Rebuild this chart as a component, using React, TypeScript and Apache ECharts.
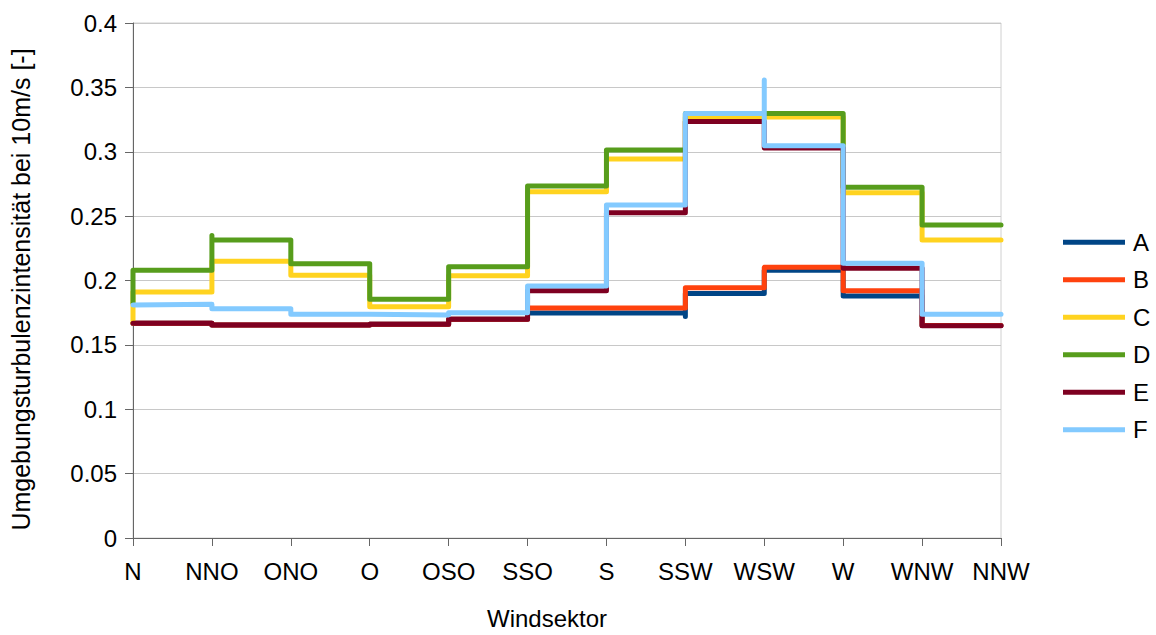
import React, { useEffect, useRef } from "react";
import * as echarts from "echarts";

const categories = ["N", "NNO", "ONO", "O", "OSO", "SSO", "S", "SSW", "WSW", "W", "WNW", "NNW"];
const seriesNames = ["A", "B", "C", "D", "E", "F"];
const colors = ["#004586", "#ff420e", "#ffd320", "#579d1c", "#7e0021", "#83caff"];

// value at index 0 is the starting value at N; value at index i holds for the sector step ending at category i
const valuesA = [0.1667, 0.1667, 0.1654, 0.1654, 0.166, 0.1699, 0.1748, 0.1748, 0.19, 0.208, 0.188, 0.165];
const valuesB = [0.1667, 0.1667, 0.1654, 0.1654, 0.166, 0.1699, 0.1786, 0.1786, 0.1944, 0.2102, 0.192, 0.165];
const valuesC = [0.167, 0.191, 0.215, 0.204, 0.1797, 0.2037, 0.269, 0.2944, 0.327, 0.327, 0.2682, 0.2315];
const valuesD = [0.1825, 0.208, 0.2315, 0.213, 0.1854, 0.2107, 0.2734, 0.3014, 0.3298, 0.3298, 0.2724, 0.2431];
const valuesE = [0.1667, 0.1667, 0.1654, 0.1654, 0.166, 0.1699, 0.192, 0.2527, 0.3234, 0.303, 0.2095, 0.1649];
const valuesF = [0.181, 0.1815, 0.178, 0.1737, 0.1732, 0.175, 0.1957, 0.2587, 0.3298, 0.3047, 0.2134, 0.1737];

// extra points drawn at a category between two steps
const extraA = [{ category: "SSW", value: 0.172 }];
const extraD = [{ category: "NNO", value: 0.235 }];
const extraF = [{ category: "WSW", value: 0.3557 }];

const yTicks = { min: 0, max: 0.4, interval: 0.05 };

const allValues = [valuesA, valuesB, valuesC, valuesD, valuesE, valuesF];
const allExtras = [extraA, [], [], extraD, [], extraF];

function buildData(values: number[], extras: { category: string; value: number }[]) {
  const out: [number, number][] = [];
  values.forEach((v, i) => {
    out.push([i, v]);
    extras
      .filter((e) => e.category === categories[i])
      .forEach((e) => out.push([i, e.value]));
  });
  return out;
}

const FONT = "'Liberation Sans', Arial, sans-serif";

export default function App() {
  const ref = useRef<HTMLDivElement>(null);
  useEffect(() => {
    if (!ref.current) return;
    const chart = echarts.init(ref.current, undefined, { renderer: "svg" });
    chart.setOption({
      animation: false,
      backgroundColor: "#ffffff",
      textStyle: { fontFamily: FONT },
      grid: { left: 133, right: 155, top: 23, bottom: 97, show: true, borderColor: "#d0d0d0", borderWidth: 1 },
      legend: {
        orient: "vertical",
        left: 1063,
        top: 230,
        padding: 0,
        itemWidth: 62,
        itemHeight: 5,
        itemGap: 13,
        icon: "rect",
        data: seriesNames,
        textStyle: { fontSize: 24, color: "#000", lineHeight: 24.5, fontFamily: FONT, padding: [0, 0, 0, 3] },
      },
      xAxis: {
        type: "category",
        data: categories,
        boundaryGap: false,
        axisLine: { lineStyle: { color: "#666", width: 1 } },
        axisTick: { show: true, length: 8, interval: 0, lineStyle: { color: "#666" } },
        axisLabel: { fontSize: 24, color: "#000", margin: 21, interval: 0, hideOverlap: false, fontFamily: FONT },
        splitLine: { show: false },
      },
      yAxis: {
        type: "value",
        min: yTicks.min,
        max: yTicks.max,
        interval: yTicks.interval,
        name: "Umgebungsturbulenzintensität bei 10m/s [-]",
        nameLocation: "middle",
        nameGap: 100,
        nameTextStyle: { fontSize: 25, color: "#000", fontFamily: FONT, padding: [0, 18, 0, 0] },
        axisLine: { show: true, lineStyle: { color: "#666", width: 1 } },
        axisTick: { show: true, length: 8, lineStyle: { color: "#666" } },
        axisLabel: { fontSize: 24, color: "#000", margin: 16, fontFamily: FONT },
        splitLine: { show: true, lineStyle: { color: "#c8c8c8", width: 1 } },
      },
      graphic: [
        {
          type: "text",
          left: 487,
          top: 606,
          style: { text: "Windsektor", fill: "#000", font: `24px ${FONT}` },
        },
      ],
      series: seriesNames.map((name, k) => ({
        name,
        type: "line",
        step: "start",
        showSymbol: false,
        symbol: "none",
        color: colors[k],
        lineStyle: { width: 5, color: colors[k], cap: "round", join: "round" },
        data: buildData(allValues[k], allExtras[k]),
      })),
    });
    return () => chart.dispose();
  }, []);
  return <div ref={ref} style={{ position: "fixed", left: 0, top: 0, width: 1156, height: 635 }} />;
}
